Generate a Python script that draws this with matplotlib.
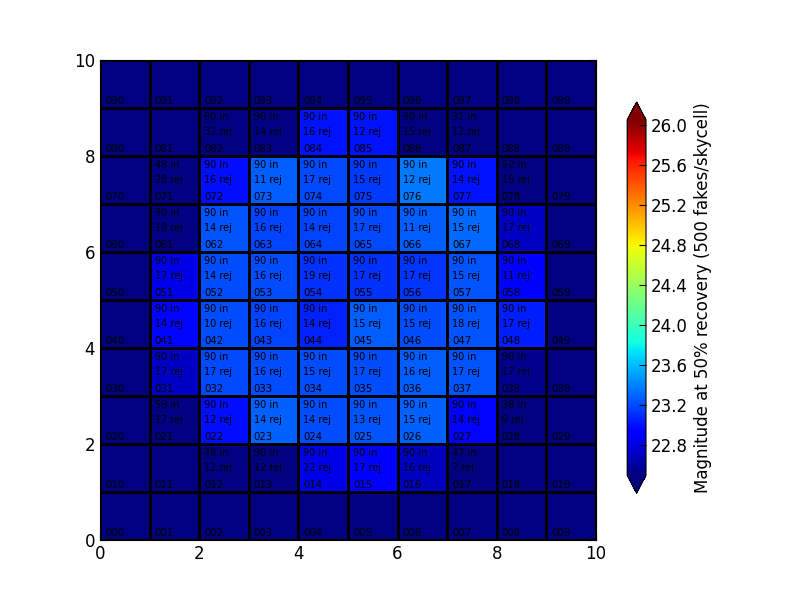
import numpy as np
import matplotlib
matplotlib.use('Agg')
import matplotlib.pyplot as plt

# 50% recovery magnitude per skycell, row = y index (0 at bottom), 22.0 = below scale
mag = np.array([
    [22.0, 22.0, 22.0, 22.0, 22.0, 22.0, 22.0, 22.0, 22.0, 22.0],
    [22.0, 22.0, 22.0, 22.0, 22.83, 22.90, 22.70, 22.0, 22.0, 22.0],
    [22.0, 22.0, 22.99, 23.29, 23.22, 23.24, 23.29, 22.95, 22.0, 22.0],
    [22.0, 22.72, 23.20, 23.22, 23.22, 23.22, 23.27, 23.24, 22.55, 22.0],
    [22.0, 22.97, 23.22, 23.19, 23.06, 23.27, 23.22, 23.24, 23.05, 22.0],
    [22.0, 22.83, 23.22, 23.22, 23.12, 23.12, 23.13, 23.24, 22.90, 22.0],
    [22.0, 22.0, 23.24, 23.19, 23.19, 23.20, 23.27, 23.31, 22.72, 22.0],
    [22.0, 22.0, 22.99, 23.27, 23.20, 23.15, 23.37, 23.00, 22.0, 22.0],
    [22.0, 22.0, 22.0, 22.52, 23.01, 23.01, 22.0, 22.0, 22.0, 22.0],
    [22.0, 22.0, 22.0, 22.0, 22.0, 22.0, 22.0, 22.0, 22.0, 22.0],
])

# number of fakes in / rejected per cell (0 = no text)
n_in = [
    [0, 0, 0, 0, 0, 0, 0, 0, 0, 0],
    [0, 0, 48, 90, 90, 90, 90, 47, 0, 0],
    [0, 59, 90, 90, 90, 90, 90, 90, 38, 0],
    [0, 90, 90, 90, 90, 90, 90, 90, 90, 0],
    [0, 90, 90, 90, 90, 90, 90, 90, 90, 0],
    [0, 90, 90, 90, 90, 90, 90, 90, 90, 0],
    [0, 90, 90, 90, 90, 90, 90, 90, 90, 0],
    [0, 48, 90, 90, 90, 90, 90, 90, 52, 0],
    [0, 0, 60, 90, 90, 90, 90, 31, 0, 0],
    [0, 0, 0, 0, 0, 0, 0, 0, 0, 0],
]
n_rej = [
    [0, 0, 0, 0, 0, 0, 0, 0, 0, 0],
    [0, 0, 12, 12, 22, 17, 16, 7, 0, 0],
    [0, 17, 12, 14, 14, 13, 15, 14, 9, 0],
    [0, 17, 17, 16, 15, 17, 16, 17, 17, 0],
    [0, 14, 10, 16, 14, 15, 15, 18, 17, 0],
    [0, 17, 14, 16, 19, 17, 17, 15, 11, 0],
    [0, 18, 14, 16, 14, 17, 11, 15, 17, 0],
    [0, 28, 16, 11, 17, 15, 12, 14, 16, 0],
    [0, 0, 32, 14, 16, 12, 15, 12, 0, 0],
    [0, 0, 0, 0, 0, 0, 0, 0, 0, 0],
]

cbar_ticks = [22.8, 23.2, 23.6, 24.0, 24.4, 24.8, 25.2, 25.6, 26.0]

fig = plt.figure(figsize=(8, 6), dpi=100)
ax = fig.add_axes([0.125, 0.1, 0.62, 0.8])
cax = fig.add_axes([0.784, 0.178, 0.0235, 0.652])

mesh = ax.pcolormesh(np.arange(11), np.arange(11), mag, cmap='jet',
                     vmin=22.5, vmax=26.05, edgecolors='k', linewidth=2)

for j in range(10):
    for i in range(10):
        ax.text(i + 0.1, j + 0.08, '0%d%d' % (j, i), fontsize=7.3, va='baseline')
        if n_in[j][i] > 0:
            ax.text(i + 0.1, j + 0.91, '%d in' % n_in[j][i], fontsize=7, va='top')
            ax.text(i + 0.1, j + 0.61, '%d rej' % n_rej[j][i], fontsize=7, va='top')

ax.set_xlim(0, 10)
ax.set_ylim(0, 10)
ax.set_xticks(range(0, 11, 2))
ax.set_yticks(range(0, 11, 2))
ax.tick_params(direction='in', top=True, right=True, labelsize=12, length=5)

cb = fig.colorbar(mesh, cax=cax, extend='both', ticks=cbar_ticks)
cb.ax.set_yticklabels(['%.1f' % t for t in cbar_ticks])
cb.ax.tick_params(direction='in', labelsize=12, length=5)
cb.set_label('Magnitude at 50% recovery (500 fakes/skycell)', fontsize=12)

fig.savefig('out.png', dpi=100)
